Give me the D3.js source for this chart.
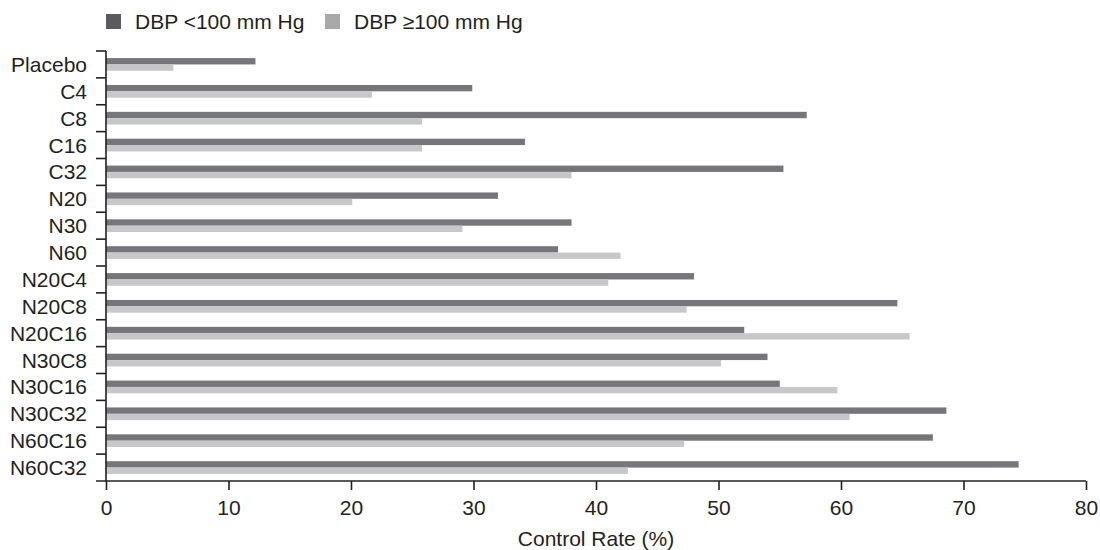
<!DOCTYPE html>
<html><head><meta charset="utf-8">
<script src="https://cdn.jsdelivr.net/npm/d3@7"></script>
<style>body{margin:0;background:#fff}svg{display:block}text{font-family:"Liberation Sans",Arial,Helvetica,sans-serif;fill:#231f20}</style>
</head><body><svg id="c" width="1100" height="550"></svg>
<script>
const categories = ["Placebo","C4","C8","C16","C32","N20","N30","N60","N20C4","N20C8","N20C16","N30C8","N30C16","N30C32","N60C16","N60C32"];
const seriesNames = ["DBP <100 mm Hg","DBP \u2265100 mm Hg"];
const dbpBelow100 = [12.2,29.9,57.2,34.2,55.3,32.0,38.0,36.9,48.0,64.6,52.1,54.0,55.0,68.6,67.5,74.5];
const dbpAbove100 = [5.5,21.7,25.8,25.8,38.0,20.1,29.1,42.0,41.0,47.4,65.6,50.2,59.7,60.7,47.2,42.6];
const xTicks = [0,10,20,30,40,50,60,70,80];
const xTitle = "Control Rate (%)";

const barColors = ["#75757a","#c6c7c9"];
const legendColors = ["#5b5b5f","#a8a8ab"];
const svg = d3.select("#c");
const pLeft = 106, pRight = 1086, pTop = 51, pBottom = 481;
const x = d3.scaleLinear().domain([0,80]).range([pLeft,pRight]);
const pad = 0.527;
const y = d3.scaleBand().domain(categories).range([pTop,pBottom]).paddingInner(pad).paddingOuter(pad/2);
const sub = d3.scaleBand().domain([0,1]).range([0,y.bandwidth()]).padding(0);
const series = [dbpBelow100, dbpAbove100];

const g = svg.append("g");
series.forEach((vals,si)=>{
  g.selectAll(".b"+si).data(categories).enter().append("rect")
    .attr("x", x(0)).attr("y", c=>y(c)+sub(si))
    .attr("width", (c,i)=>x(vals[i])-x(0)).attr("height", sub.bandwidth())
    .attr("fill", barColors[si]);
});

// y axis
const axisColor = "#231f20";
svg.append("line").attr("x1",pLeft).attr("x2",pLeft).attr("y1",pTop).attr("y2",pBottom)
  .attr("stroke",axisColor).attr("stroke-width",1.6);
const step = y.step();
const bounds = categories.map(c=>y(c)-step*pad/2);
svg.selectAll(".yt").data(bounds).enter().append("line")
  .attr("x1",pLeft-10).attr("x2",pLeft).attr("y1",d=>d).attr("y2",d=>d)
  .attr("stroke",axisColor).attr("stroke-width",1.6);
svg.selectAll(".yl").data(categories).enter().append("text")
  .attr("x",pLeft-19).attr("y",c=>y(c)+y.bandwidth()/2).attr("dy","0.36em")
  .attr("text-anchor","end").attr("font-size",21).text(c=>c);

// x axis
const xa = svg.append("g").attr("transform",`translate(0,${pBottom})`)
  .call(d3.axisBottom(x).tickValues(xTicks).tickSize(9).tickPadding(10).tickFormat(d3.format("d")));
xa.select(".domain").remove();
xa.selectAll("line").attr("stroke",axisColor).attr("stroke-width",1.6);
xa.selectAll("text").attr("font-size",21).style("font-family",'"Liberation Sans",Arial,sans-serif').attr("fill",axisColor);
svg.append("line").attr("x1",pLeft-10).attr("x2",pRight).attr("y1",pBottom).attr("y2",pBottom)
  .attr("stroke",axisColor).attr("stroke-width",1.6);

svg.append("text").attr("x",(pLeft+pRight)/2).attr("y",546).attr("text-anchor","middle")
  .attr("font-size",21).text(xTitle);

// legend
const lx = [106,325];
seriesNames.forEach((n,i)=>{
  svg.append("rect").attr("x",lx[i]).attr("y",14).attr("width",15).attr("height",15).attr("fill",legendColors[i]);
  svg.append("text").attr("x",lx[i]+29).attr("y",29).attr("font-size",21).text(n);
});
</script></body></html>
